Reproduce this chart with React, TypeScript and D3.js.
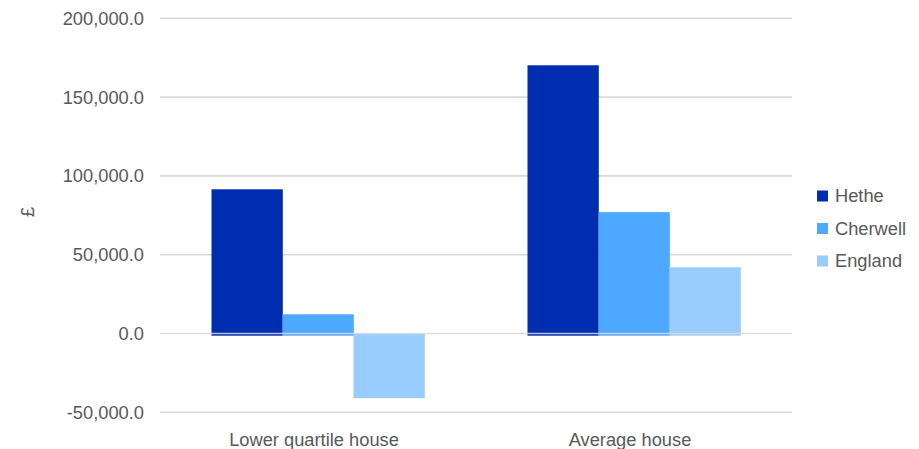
import React from "react";
import * as d3 from "d3";

const categories = ["Lower quartile house", "Average house"];
const seriesNames = ["Hethe", "Cherwell", "England"];
const hethe = [91500, 170200];
const cherwell = [12200, 77000];
const england = [-41000, 42000];
const yTicks = [-50000, 0, 50000, 100000, 150000, 200000];
const colors = ["#002db0", "#4da8ff", "#99ccff"];

const W = 919;
const H = 449;

export default function App() {
  const values = [hethe, cherwell, england];
  const left = 160;
  const right = 792;
  const y = d3.scaleLinear().domain([-50000, 200000]).range([412.3, 18.3]);
  const x = d3.scaleBand().domain(categories).range([left, right]).paddingInner(0).paddingOuter(0);
  const inner = d3.scaleBand().domain(seriesNames).range([0, x.bandwidth()]).paddingOuter(0.725).paddingInner(0);
  const d3fmt = d3.format(",.1f");
  const fmt = (v: number) => d3fmt(v).replace("\u2212", "-");
  const font = "Arial, 'Liberation Sans', sans-serif";
  const fs = 18.3;
  const y0 = y(0);
  return (
    <svg width={W} height={H} style={{ position: "absolute", left: 0, top: 0 }} fontFamily={font}>
      <rect width={W} height={H} fill="#fff" />
      {yTicks.filter((t) => t !== 0).map((t) => (
        <line key={t} x1={left} x2={right} y1={y(t)} y2={y(t)} stroke="#d9d9d9" strokeWidth={1.6} />
      ))}
      {yTicks.map((t) => (
        <text key={"l" + t} x={144} y={y(t)} dy="0.35em" textAnchor="end" fontSize={fs} fill="#595959">
          {fmt(t)}
        </text>
      ))}
      {categories.map((c, ci) =>
        seriesNames.map((s, si) => {
          const v = values[si][ci];
          const bx = (x(c) as number) + (inner(s) as number);
          const top = v >= 0 ? y(v) : y0;
          const bottom = v >= 0 ? y0 + 2.2 : y(v);
          return (
            <rect key={c + s} x={bx} y={top} width={inner.bandwidth() + 0.3} height={bottom - top} fill={colors[si]} />
          );
        })
      )}
      <line x1={left} x2={right} y1={y0} y2={y0} stroke="#d9d9d9" strokeOpacity={0.85} strokeWidth={1.6} />
      {categories.map((c) => (
        <text key={c} x={(x(c) as number) + x.bandwidth() / 2 - 4} y={440} dy="0.35em" textAnchor="middle" fontSize={fs} fill="#595959">
          {c}
        </text>
      ))}
      <text transform={`translate(28,212) rotate(-90)`} textAnchor="middle" dy="0.35em" fontSize={fs} fill="#595959">
        £
      </text>
      {seriesNames.map((s, i) => (
        <g key={s} transform={`translate(817,${196 + i * 32.5})`}>
          <rect x={0} y={-5.5} width={11} height={11} fill={colors[i]} />
          <text x={18} y={0} dy="0.35em" fontSize={fs} fill="#595959">
            {s}
          </text>
        </g>
      ))}
    </svg>
  );
}
